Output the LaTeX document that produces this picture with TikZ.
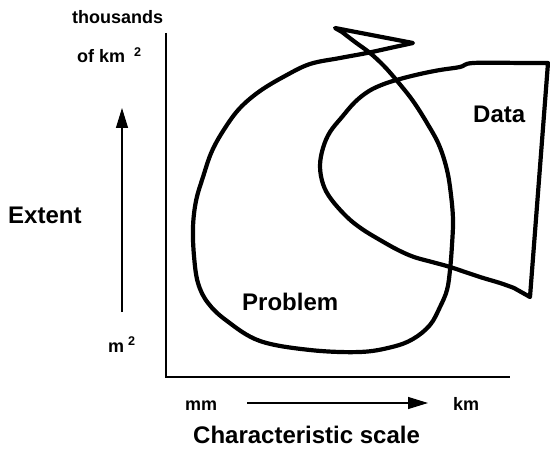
\documentclass[tikz,border=0pt]{standalone}
\usepackage{fontspec}
\setmainfont{Liberation Sans}
\usetikzlibrary{arrows.meta}

\begin{document}
\begin{tikzpicture}[x=1pt,y=-1pt,
lbl/.style={anchor=base west,inner sep=0pt,font=\bfseries\fontsize{18}{20}\selectfont},
biglbl/.style={anchor=base west,inner sep=0pt,font=\bfseries\fontsize{24}{28}\selectfont},
axis/.style={line width=1.8pt},
arr/.style={-{Triangle[length=20pt,width=12pt]},line width=1.2pt},
curve/.style={line width=4.2pt,line join=round,line cap=round}]
\useasboundingbox (0,0) rectangle (550,452);
% axes
\coordinate (o) at (166,377);\coordinate (ytop) at (166,33);\coordinate (xend) at (510,377);
\draw[axis](ytop)--(o)--(xend);
% labels
\node[lbl](thou) at (72,24){thousands};
\node[lbl](kmsq) at (77,63){of km\hspace{9pt}\textsuperscript{2}};
\node[biglbl](ext) at (8,223){Extent};
\node[lbl](msq) at (108,352){m\hspace{4pt}\textsuperscript{2}};
\node[lbl](mm) at (185,410){mm};\node[lbl](km) at (453,410){km};
\node[biglbl](cs) at (193,443){Characteristic scale};
\node[biglbl](prob) at (242,310){Problem};
\node[biglbl](data) at (473,123){Data};
% direction arrows
\coordinate (ya) at (122,312);\coordinate (yb) at (122,108);
\coordinate (xa) at (247,403);\coordinate (xb) at (428,403);
\draw[arr](ya)--(yb);\draw[arr](xa)--(xb);
% problem region
\draw[curve](335,28)--(413,43)--plot[smooth,tension=.6] coordinates{(413,43)(390,48)(367,53)(340,58)(310,64)(285,76)(260,91)(240,108)(225,128)(212,151)(203,177)(196,201)(193,227)(194,256)(198,283)(208,303)(227,321)(260,341)(310,350)(360,352)(392,347)(413,339)(430,325)(440,307)(447,290)(450,270)(452,245)(453,220)(451,195)(447,170)(439,145)(427,123)(413,101)(398,82)(384,66)(370,53)(355,42)(342,32)}--cycle;
% data region
\draw[curve](548,63)--(520,63)--plot[smooth,tension=.6] coordinates{(520,63)(473,63)(460,67)(440,70)(420,74)(400,79)(384,84)(369,91)(355,102)(342,117)(330,132)(323,148)(320,166)(323,184)(331,199)(347,217)(362,229)(380,240)(398,250)(414,257)(432,262)(450,267)(480,277)(500,283)(514,288)}--(530,297)--cycle;
\end{tikzpicture}
\end{document}
